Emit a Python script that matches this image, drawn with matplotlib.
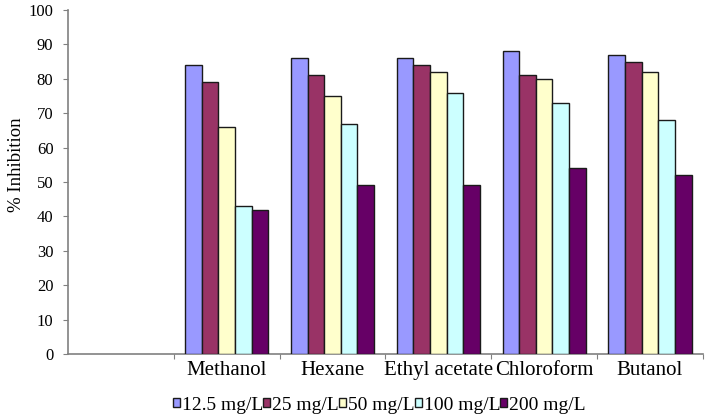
import matplotlib
matplotlib.use('Agg')
import matplotlib.pyplot as plt
import numpy as np

plt.rcParams['font.family'] = ['Liberation Serif', 'DejaVu Serif']

# data
categories = ['', 'Methanol', 'Hexane', 'Ethyl acetate', 'Chloroform', 'Butanol']
series = ['12.5 mg/L', '25 mg/L', '50 mg/L', '100 mg/L', '200 mg/L']
c125 = [0, 84, 86, 86, 88, 87]
c25 = [0, 79, 81, 84, 81, 85]
c50 = [0, 66, 75, 82, 80, 82]
c100 = [0, 43, 67, 76, 73, 68]
c200 = [0, 42, 49, 49, 54, 52]
valores = [c125, c25, c50, c100, c200]
cores = ['#9999FF', '#993366', '#FFFFCC', '#CCFFFF', '#660066']

fig = plt.figure(figsize=(7.07, 4.17), dpi=100)
ax = fig.add_axes([0.0962, 0.151, 0.898, 0.825])

x = np.arange(len(categories))
w = 0.157
for i in range(len(series)):
    v = np.array(valores[i], dtype=float)
    v[0] = np.nan  # empty first slot
    ax.bar(x + (i - 2) * w, v, width=w, color=cores[i], edgecolor='#1a1a1a',
           linewidth=1.0, label=series[i], zorder=3)

ax.set_xlim(-0.5, len(categories) - 0.5)
ax.set_ylim(0, 100)
ax.set_yticks(np.arange(0, 101, 10))

# tick marks at category borders, labels at centres
ax.set_xticks(np.arange(len(categories)) + 0.5)
ax.set_xticklabels([])
ax.set_xticks(x, minor=True)
ax.set_xticklabels(categories, minor=True)
ax.tick_params(axis='x', which='minor', length=0, pad=5, labelsize=15)
ax.tick_params(axis='x', which='major', length=3.5, color='#808080', direction='out')
ax.tick_params(axis='y', length=3.5, color='#808080', labelsize=12, pad=7)

for s in ['top', 'right']:
    ax.spines[s].set_visible(False)
for s in ['left', 'bottom']:
    ax.spines[s].set_color('#808080')
    ax.spines[s].set_linewidth(1.2)

ax.set_ylabel('% Inhibition', fontsize=13.5)
ax.yaxis.set_label_coords(-0.068, 0.55)

leg = fig.legend(loc='center left', bbox_to_anchor=(173 / 707, 1 - 405 / 417), ncol=5,
                 frameon=False, fontsize=14, handlelength=0.36, handleheight=0.36,
                 handletextpad=0.1, columnspacing=0.0, borderpad=0, borderaxespad=0)

plt.savefig('out.png', dpi=100)
